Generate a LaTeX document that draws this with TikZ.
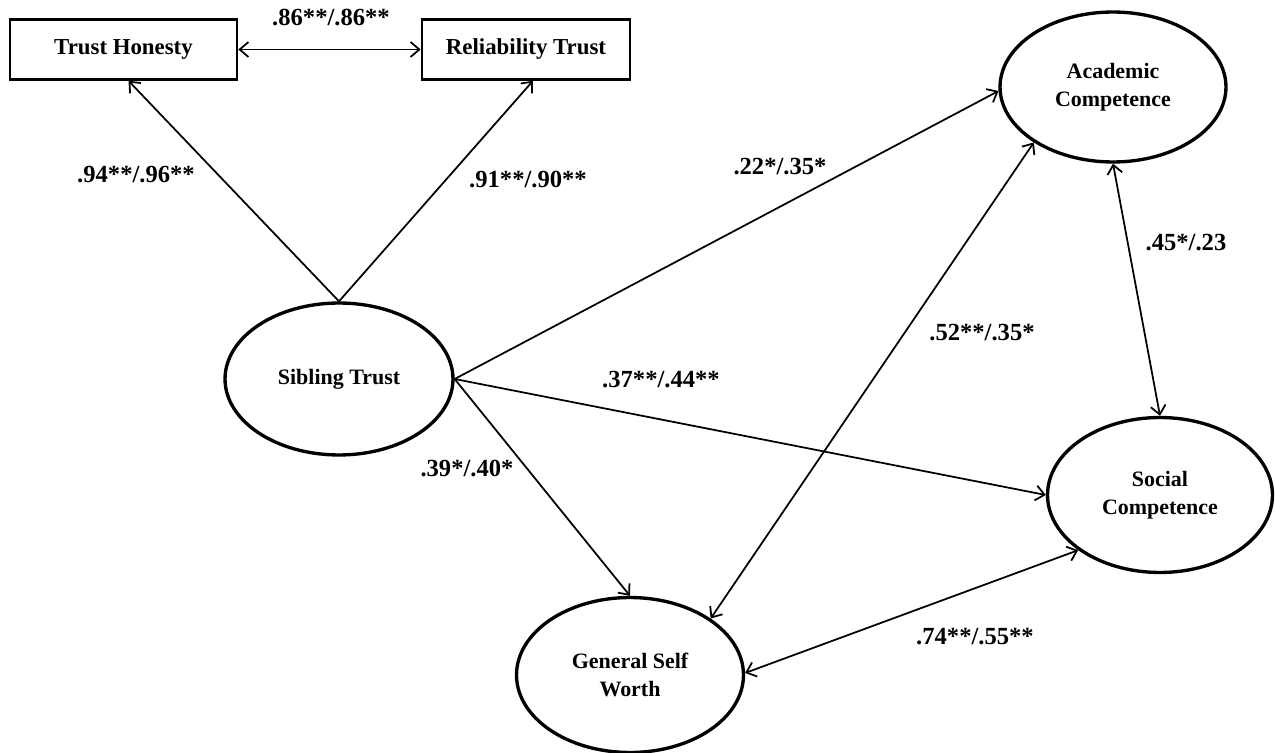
\documentclass[tikz,border=0pt]{standalone}
\usepackage{fontspec}
\setmainfont{Liberation Serif}
\usetikzlibrary{shapes.geometric}
\usetikzlibrary{arrows.meta}

\tikzset{
  latent/.style={ellipse,draw=black,line width=1.9pt,align=center,inner sep=0pt,
    font=\fontsize{12.5}{15.7}\selectfont\bfseries},
  observed/.style={rectangle,draw=black,line width=1.5pt,inner sep=0pt,minimum height=1.2cm,
    font=\fontsize{13}{15}\selectfont\bfseries},
  path/.style={-{Straight Barb[length=5pt,width=8.5pt]},line width=1pt},
  covar/.style={{Straight Barb[length=5pt,width=8.5pt]}-{Straight Barb[length=5pt,width=8.5pt]},line width=1pt},
  coef/.style={font=\fontsize{14}{16}\selectfont\bfseries,text=black,anchor=center}
}

\begin{document}
\begin{tikzpicture}[x=0.02cm,y=-0.02cm]
\useasboundingbox (0,0) rectangle (1275,753);

% measured variables
\node[observed,minimum width=4.54cm] (honest) at (123.5,49.5) {Trust Honesty};
\node[observed,minimum width=4.16cm] (reliab) at (526,49.5) {Reliability Trust};
% latent variables
\node[latent,minimum width=4.56cm,minimum height=3.04cm] (sibling) at (339,379) {Sibling Trust};
\node[latent,minimum width=4.52cm,minimum height=3.0cm] (academic) at (1113,87) {Academic\\Competence};
\node[latent,minimum width=4.5cm,minimum height=3.1cm] (social) at (1160,495) {Social\\Competence};
\node[latent,minimum width=4.54cm,minimum height=3.1cm] (selfworth) at (630,675) {General Self\\Worth};

\draw[covar] (honest.east) -- (reliab.west);
\draw[path] (sibling.north) -- ([xshift=0.1cm]honest.south);
\draw[path] (sibling.north) -- ([xshift=0.14cm]reliab.south);
\draw[path] (sibling.east) -- (academic.182);
\draw[path] (sibling.east) -- (social.180);
\draw[path] (sibling.east) -- (selfworth.north);
\draw[covar] (academic.215) -- (selfworth.35);
\draw[covar] (academic.south) -- (social.north);
\draw[covar] (social.214) -- (selfworth.1);

\node[coef] (c1) at (331,17) {.86**/.86**};
\node[coef] (c2) at (136,175) {.94**/.96**};
\node[coef] (c3) at (528,179) {.91**/.90**};
\node[coef] (c4) at (780,167) {.22*/.35*};
\node[coef] (c5) at (1186,243) {.45*/.23};
\node[coef] (c6) at (982,333) {.52**/.35*};
\node[coef] (c7) at (661,380) {.37**/.44**};
\node[coef] (c8) at (467,468) {.39*/.40*};
\node[coef] (c9) at (975,637) {.74**/.55**};

\end{tikzpicture}
\end{document}
